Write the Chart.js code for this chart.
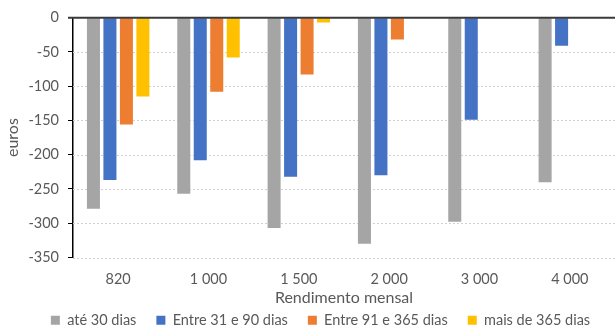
<!DOCTYPE html>
<html>
<head>
<meta charset="utf-8">
<script src="https://cdn.jsdelivr.net/npm/chart.js@4"></script>
<style>
  html, body { margin: 0; padding: 0; background: #fff; }
  #wrap { width: 616px; height: 327px; }
</style>
</head>
<body>
<div id="wrap"><canvas id="c" width="616" height="327"></canvas></div>
<script>
// Rendimento mensal (euros) and variation by delay band
const categories = ['820', '1 000', '1 500', '2 000', '3 000', '4 000'];
const ate30 = [-279, -257, -307, -330, -298, -240];
const entre31e90 = [-237, -208, -232, -230, -149, -41];
const entre91e365 = [-156, -108, -83, -32, null, null];
const mais365 = [-115, -58, -7, null, null, null];
const seriesNames = ['até 30 dias', 'Entre 31 e 90 dias', 'Entre 91 e 365 dias', 'mais de 365 dias'];
const yTicks = [0, -50, -100, -150, -200, -250, -300, -350];

const FONT = 'Lato, "Open Sans", sans-serif';
const TEXT = '#595959';
const colors = ['#A5A5A5', '#4472C4', '#ED7D31', '#FFC000'];

// Dotted horizontal gridlines behind the bars
const dottedGrid = {
  id: 'dottedGrid',
  beforeDatasetsDraw(chart) {
    const s = chart.scales.y;
    const { left, right } = chart.chartArea;
    const ctx = chart.ctx;
    ctx.save();
    ctx.strokeStyle = '#d0d0d0';
    ctx.lineWidth = 1;
    ctx.setLineDash([2, 2]);
    s.ticks.forEach(t => {
      if (t.value === 0) return;
      const y = Math.round(s.getPixelForValue(t.value)) + 0.5;
      ctx.beginPath();
      ctx.moveTo(left, y);
      ctx.lineTo(right, y);
      ctx.stroke();
    });
    ctx.restore();
  }
};

// Solid line along the zero value, over the bars
const zeroLine = {
  id: 'zeroLine',
  afterDatasetsDraw(chart) {
    const y = chart.scales.y.getPixelForValue(0);
    const { left, right } = chart.chartArea;
    const ctx = chart.ctx;
    ctx.save();
    ctx.strokeStyle = '#3a3a3a';
    ctx.lineWidth = 2;
    ctx.beginPath();
    ctx.moveTo(left - 5, y);
    ctx.lineTo(right, y);
    ctx.stroke();
    ctx.restore();
  }
};

// Centre the legend row under the plot rather than the whole canvas
const legendShift = {
  id: 'legendShift',
  afterLayout(chart) {
    if (chart.legend) { chart.legend.left += 13; chart.legend.right += 13; }
  }
};

new Chart(document.getElementById('c'), {
  type: 'bar',
  data: {
    labels: categories,
    datasets: [ate30, entre31e90, entre91e365, mais365].map((d, i) => ({
      label: seriesNames[i],
      data: d,
      backgroundColor: colors[i],
      categoryPercentage: 0.73,
      barPercentage: 0.79
    }))
  },
  options: {
    responsive: false,
    animation: false,
    layout: { padding: { top: 8, right: 1, left: 0, bottom: -10.5 } },
    plugins: {
      legend: {
        position: 'bottom',
        labels: {
          boxWidth: 9, boxHeight: 9, padding: 20,
          color: TEXT, font: { family: FONT, size: 14.5 }
        }
      },
      tooltip: { enabled: false }
    },
    scales: {
      x: {
        afterFit(scale) { scale.height = 35.5; },
        grid: { display: false, drawTicks: false },
        border: { display: false },
        ticks: { color: TEXT, font: { family: FONT, size: 14.5 }, padding: 13 },
        title: { display: true, text: 'Rendimento mensal', color: TEXT, font: { family: FONT, size: 16 }, padding: { top: 0, bottom: -14.1 } }
      },
      y: {
        min: -350, max: 0,
        afterBuildTicks(scale) { scale.ticks = yTicks.map(v => ({ value: v })); },
        afterFit(scale) { scale.width = 73; },
        grid: { color: 'rgba(0,0,0,0)', tickColor: '#000', tickLength: 5, drawTicks: true, drawOnChartArea: false },
        border: { display: true, color: '#000', width: 1.5 },
        ticks: { color: TEXT, font: { family: FONT, size: 14.5 }, padding: 9 },
        title: { display: true, text: 'euros', color: TEXT, font: { family: FONT, size: 16 }, padding: { top: 3, bottom: 0 } }
      }
    }
  },
  plugins: [dottedGrid, zeroLine, legendShift]
});
</script>
</body>
</html>
